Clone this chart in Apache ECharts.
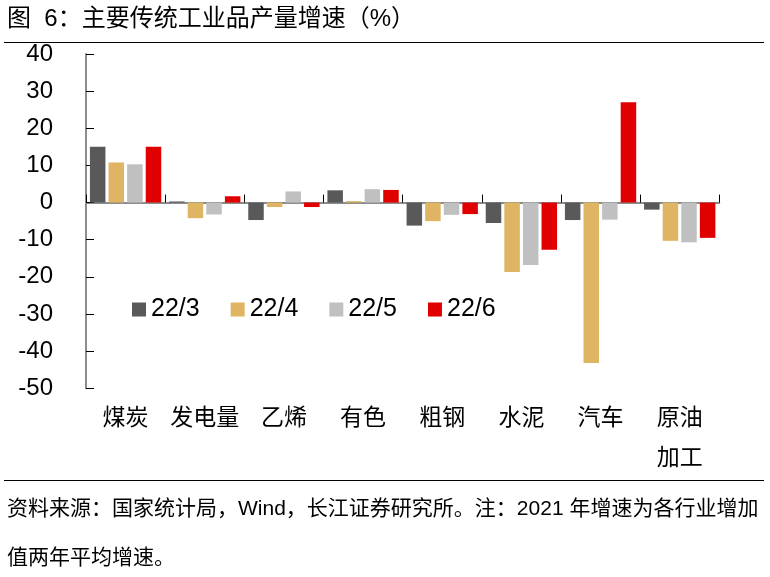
<!DOCTYPE html>
<html>
<head>
<meta charset="utf-8">
<script src="https://cdn.jsdelivr.net/npm/echarts@6/dist/echarts.min.js"></script>
<style>html,body{margin:0;padding:0;background:#fff;}#c{width:770px;height:577px;}</style>
</head>
<body>
<div id="c"></div>
<script>
var categories = ['煤炭', '发电量', '乙烯', '有色', '粗钢', '水泥', '汽车', '原油\n加工'];
var seriesNames = ['22/3', '22/4', '22/5', '22/6'];
var s223 = [15.0, 0.3, -4.7, 3.3, -6.2, -5.5, -4.7, -1.9];
var s224 = [10.8, -4.2, -1.2, 0.4, -5.0, -18.7, -43.2, -10.3];
var s225 = [10.3, -3.2, 3.0, 3.6, -3.3, -16.8, -4.6, -10.7];
var s226 = [15.0, 1.7, -1.2, 3.4, -3.1, -12.7, 27.0, -9.5];
var yMin = -50, yMax = 40, yStep = 10;
var titleText = '图  6：主要传统工业品产量增速（%）';
var footer1 = '资料来源：国家统计局，Wind，长江证券研究所。注：2021 年增速为各行业增加';
var footer2 = '值两年平均增速。';

var colors = ['#595959', '#DFB564', '#C0C0C0', '#E00000'];
var FONT = '"Liberation Sans", Arial, "Noto Sans CJK SC", sans-serif';
var chart = echarts.init(document.getElementById('c'));
var data = [s223, s224, s225, s226];
var series = data.map(function (d, i) {
  return {
    name: seriesNames[i], type: 'bar', data: d,
    barWidth: 15.5, barGap: '20%',
    itemStyle: { color: colors[i] },
    xAxisIndex: 0, yAxisIndex: 0
  };
});
chart.setOption({
  animation: false,
  color: colors,
  grid: { left: 86, top: 54, right: 50.7, bottom: 577 - 388.3, containLabel: false },
  legend: {
    data: seriesNames, left: 132, top: 297, orient: 'horizontal', padding: 0,
    itemWidth: 14, itemHeight: 14, itemGap: 31, icon: 'rect',
    textStyle: { fontSize: 25, color: '#000', fontFamily: FONT }
  },
  xAxis: [{
    type: 'category', data: categories, position: 'bottom',
    axisLine: { show: false, onZero: false }, axisTick: { show: false },
    axisLabel: { interval: 0, margin: 10, fontSize: 23, lineHeight: 40, color: '#000', fontFamily: FONT }
  }, {
    type: 'category', data: categories, position: 'bottom',
    axisLine: { show: true, onZero: true, lineStyle: { color: '#8c8c8c', width: 2 } },
    axisTick: { show: true, inside: true, length: 8, lineStyle: { color: '#000', width: 1 } },
    axisLabel: { show: false }
  }],
  yAxis: {
    type: 'value', min: yMin, max: yMax, interval: yStep,
    splitLine: { show: false },
    axisLine: { show: true, lineStyle: { color: '#8c8c8c', width: 2 } },
    axisTick: { show: true, inside: true, length: 8, lineStyle: { color: '#000', width: 1 } },
    axisLabel: { margin: 33, fontSize: 24, color: '#000', fontFamily: FONT }
  },
  series: series,
  graphic: [
    { type: 'text', left: 7, top: 7, style: { text: titleText, fontSize: 24, fill: '#000', fontFamily: FONT } },
    { type: 'line', shape: { x1: 4, y1: 42.5, x2: 764, y2: 42.5 }, style: { stroke: '#000', lineWidth: 1 } },
    { type: 'line', shape: { x1: 4, y1: 480.5, x2: 764, y2: 480.5 }, style: { stroke: '#000', lineWidth: 1 } },
    { type: 'text', left: 7, top: 499, style: { text: footer1, fontSize: 21, fill: '#000', fontFamily: FONT } },
    { type: 'text', left: 7, top: 548, style: { text: footer2, fontSize: 21, fill: '#000', fontFamily: FONT } }
  ]
});
</script>
</body>
</html>
